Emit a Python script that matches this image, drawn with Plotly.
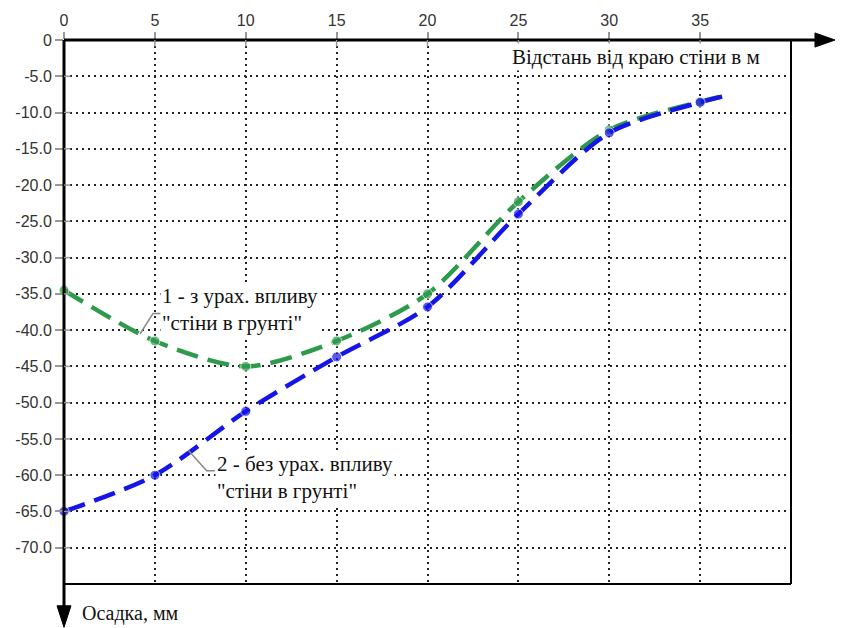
import plotly.graph_objects as go

# distances along the x-axis (m)
distance = [0, 5, 10, 15, 20, 25, 30, 35, 36.4]
# series 1: with wall-in-soil influence (mm)
settle_with_wall = [-34.5, -41.5, -45.0, -41.5, -35.0, -22.3, -12.4, -8.5, -7.7]
# series 2: without wall influence (mm)
settle_without_wall = [-65.0, -60.0, -51.2, -43.7, -36.8, -24.0, -12.8, -8.6, -7.7]

x_ticks = [0, 5, 10, 15, 20, 25, 30, 35]
y_ticks = [0, -5, -10, -15, -20, -25, -30, -35, -40, -45, -50, -55, -60, -65, -70]
y_tick_text = ["0"] + [f"{v:.1f}" for v in y_ticks[1:]]

marker_sizes = [10] * 8 + [0]

fig = go.Figure()
fig.add_trace(go.Scatter(
    x=distance, y=settle_with_wall, mode="lines+markers",
    line=dict(color="#2e9a4c", width=4.5, dash="22px,10px", shape="spline", smoothing=0.8),
    marker=dict(color="#2e9a4c", size=marker_sizes),
    showlegend=False, cliponaxis=False))
fig.add_trace(go.Scatter(
    x=distance, y=settle_without_wall, mode="lines+markers",
    line=dict(color="#1515e8", width=4.5, dash="22px,10px", shape="spline", smoothing=0.8),
    marker=dict(color="#1515e8", size=marker_sizes),
    showlegend=False, cliponaxis=False))

serif = "Liberation Serif"
sans = "Liberation Sans"

# page body adds ~8px offset at top/left; compensate
fig.update_layout(
    width=840, height=620,
    margin=dict(l=56, r=57, t=32, b=44, autoexpand=False),
    paper_bgcolor="white", plot_bgcolor="white",
    xaxis=dict(
        range=[0, 40], side="top", tickvals=x_ticks, ticktext=[str(v) for v in x_ticks],
        showgrid=True, gridcolor="#222", gridwidth=2, griddash="2px,4px",
        zeroline=False, showline=False,
        ticks="outside", ticklen=7, tickcolor="#999", tickwidth=1.5,
        tickfont=dict(family=sans, size=16, color="#333"),
    ),
    yaxis=dict(
        range=[-75, 0], tickvals=y_ticks, ticktext=y_tick_text,
        showgrid=True, gridcolor="#222", gridwidth=2, griddash="2px,4px",
        zeroline=False, showline=False,
        ticks="outside", ticklen=8, tickcolor="#999", tickwidth=1.5,
        tickfont=dict(family=sans, size=16, color="#333"),
    ),
)

shapes = []
shapes.append(dict(type="line", xref="paper", yref="paper", x0=1, x1=1, y0=0, y1=1,
                   line=dict(color="black", width=2)))
shapes.append(dict(type="line", xref="paper", yref="paper", x0=0, x1=1, y0=0, y1=0,
                   line=dict(color="black", width=2)))
shapes.append(dict(type="line", xref="paper", yref="paper", x0=0, x1=1.04, y0=1, y1=1,
                   line=dict(color="black", width=3)))
shapes.append(dict(type="path", xref="paper", yref="paper",
                   path="M 1.033 1.013 L 1.0605 1 L 1.033 0.987 Z",
                   fillcolor="black", line=dict(color="black", width=1)))
shapes.append(dict(type="line", xref="paper", yref="paper", x0=0, x1=0, y0=1, y1=-0.05,
                   line=dict(color="black", width=3)))
shapes.append(dict(type="path", xref="paper", yref="paper",
                   path="M -0.0096 -0.04 L 0 -0.0795 L 0.0096 -0.04 Z",
                   fillcolor="black", line=dict(color="black", width=1)))
# small tick stubs crossing into the plot (like the reference)
for v in y_ticks[1:]:
    shapes.append(dict(type="line", xref="paper", yref="y", x0=0, x1=0.009, y0=v, y1=v,
                       line=dict(color="#999", width=1.5)))
for v in x_ticks[1:]:
    shapes.append(dict(type="line", xref="x", yref="paper", x0=v, x1=v, y0=1, y1=0.988,
                       line=dict(color="#999", width=1.5)))
# leader lines
shapes.append(dict(type="path", xref="x", yref="y",
                   path="M 4.19 -40.5 L 4.9 -37.7 L 5.35 -37.7",
                   line=dict(color="#888", width=1.5)))
shapes.append(dict(type="path", xref="x", yref="y",
                   path="M 6.85 -56.6 L 7.85 -59.4 L 8.3 -59.4",
                   line=dict(color="#888", width=1.5)))
fig.update_layout(shapes=shapes)

annotations = [
    dict(x=5.3, y=-37.1, xref="x", yref="y", xanchor="left", yanchor="middle", align="left",
         text='1 - з урах. впливу<br>"стіни в грунті"', showarrow=False,
         font=dict(family=serif, size=21, color="#111"), bgcolor="white"),
    dict(x=8.3, y=-60.3, xref="x", yref="y", xanchor="left", yanchor="middle", align="left",
         text='2 - без урах. впливу<br>"стіни в грунті"', showarrow=False,
         font=dict(family=serif, size=21, color="#111"), bgcolor="white"),
    dict(x=(636 - 64) / 727, y=1 - (57 - 40) / 544, xref="paper", yref="paper",
         xanchor="center", yanchor="middle", text="Відстань від краю стіни в м",
         showarrow=False, font=dict(family=serif, size=21, color="#111"), bgcolor="white"),
    dict(x=(80 - 64) / 727, y=1 - (613 - 40) / 544, xref="paper", yref="paper",
         xanchor="left", yanchor="middle", text="Осадка, мм",
         showarrow=False, font=dict(family=serif, size=20, color="#111")),
]
fig.update_layout(annotations=annotations)

fig.write_html("out.html")
